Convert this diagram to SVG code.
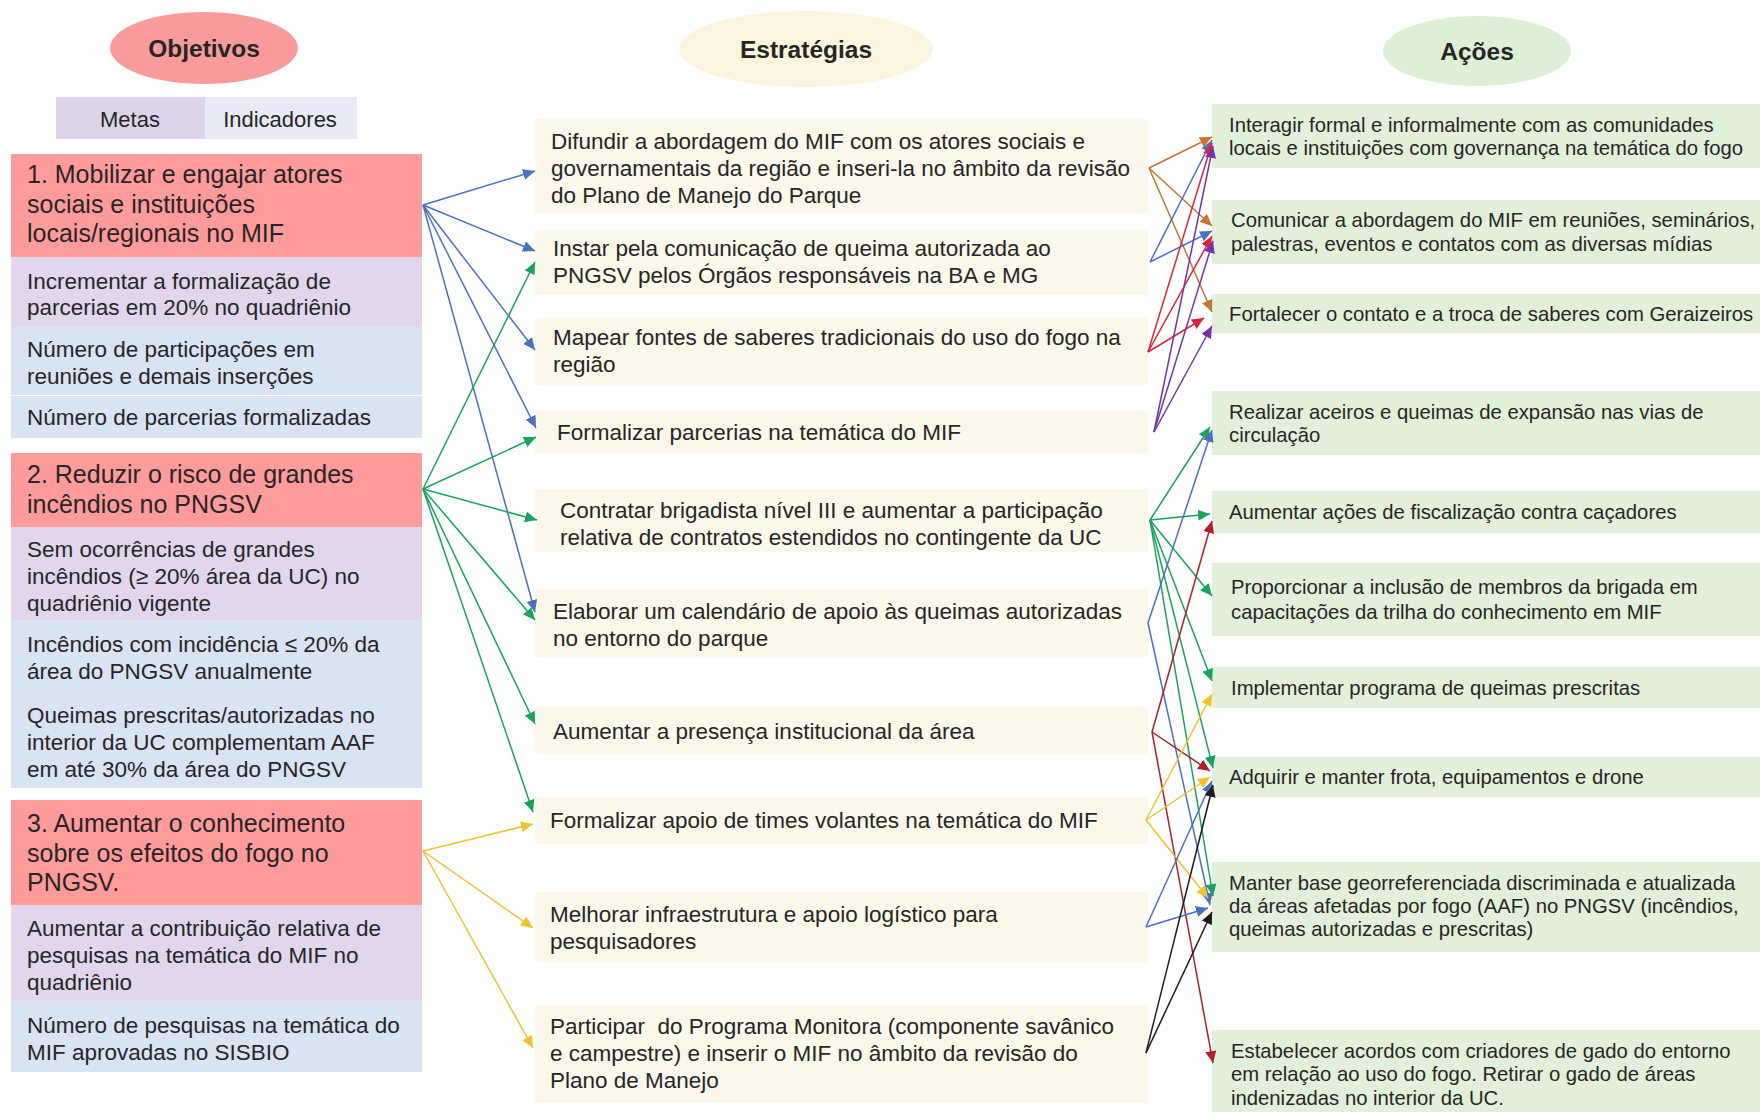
<svg xmlns="http://www.w3.org/2000/svg" width="1760" height="1112" viewBox="0 0 1760 1112">
  <style>
    text { font-family: "Liberation Sans", Arial, sans-serif; fill: #262626; }
    .hdr { font-size: 24.5px; font-weight: bold; text-anchor: middle; }
    .sub { font-size: 22px; text-anchor: middle; }
    .obj { font-size: 25px; }
    .lt { font-size: 22.5px; }
    .md { font-size: 22.5px; }
    .rt { font-size: 20.3px; }
    .c-obj { fill: #FF9B9B; }
    .c-meta { fill: #E1D6EC; }
    .c-ind { fill: #DAE3F2; }
    .c-str { fill: #FBF7EA; }
    .c-act { fill: #E2EFDA; }
    .ln { fill: none; stroke-width: 1.5; }
    .blue { stroke: #4A70C2; marker-end: url(#ah-blue); }
    .green { stroke: #18A45C; marker-end: url(#ah-green); }
    .yellow { stroke: #F2C12E; marker-end: url(#ah-yellow); }
    .orange { stroke: #C8752F; marker-end: url(#ah-orange); }
    .red { stroke: #E3223A; marker-end: url(#ah-red); }
    .purple { stroke: #7434A6; marker-end: url(#ah-purple); }
    .dred { stroke: #B01E28; marker-end: url(#ah-dred); }
    .black { stroke: #1C1C1C; marker-end: url(#ah-black); }
  </style>
  <defs>
    <marker id="ah-blue" markerUnits="userSpaceOnUse" markerWidth="13" markerHeight="11" refX="12" refY="5.5" orient="auto"><path d="M0,0 L12,5.5 L0,11 z" fill="#4A70C2"/></marker>
    <marker id="ah-green" markerUnits="userSpaceOnUse" markerWidth="13" markerHeight="11" refX="12" refY="5.5" orient="auto"><path d="M0,0 L12,5.5 L0,11 z" fill="#18A45C"/></marker>
    <marker id="ah-yellow" markerUnits="userSpaceOnUse" markerWidth="13" markerHeight="11" refX="12" refY="5.5" orient="auto"><path d="M0,0 L12,5.5 L0,11 z" fill="#F2C12E"/></marker>
    <marker id="ah-orange" markerUnits="userSpaceOnUse" markerWidth="13" markerHeight="11" refX="12" refY="5.5" orient="auto"><path d="M0,0 L12,5.5 L0,11 z" fill="#C8752F"/></marker>
    <marker id="ah-red" markerUnits="userSpaceOnUse" markerWidth="13" markerHeight="11" refX="12" refY="5.5" orient="auto"><path d="M0,0 L12,5.5 L0,11 z" fill="#E3223A"/></marker>
    <marker id="ah-purple" markerUnits="userSpaceOnUse" markerWidth="13" markerHeight="11" refX="12" refY="5.5" orient="auto"><path d="M0,0 L12,5.5 L0,11 z" fill="#7434A6"/></marker>
    <marker id="ah-dred" markerUnits="userSpaceOnUse" markerWidth="13" markerHeight="11" refX="12" refY="5.5" orient="auto"><path d="M0,0 L12,5.5 L0,11 z" fill="#B01E28"/></marker>
    <marker id="ah-black" markerUnits="userSpaceOnUse" markerWidth="13" markerHeight="11" refX="12" refY="5.5" orient="auto"><path d="M0,0 L12,5.5 L0,11 z" fill="#1C1C1C"/></marker>
  </defs>

  <rect width="1760" height="1112" fill="#FFFFFF"/>

  <!-- column headers -->
  <g id="hdr-objetivos">
    <ellipse cx="204" cy="48" rx="94" ry="36" fill="#F99B9B"/>
    <text class="hdr" x="204" y="57">Objetivos</text>
  </g>
  <g id="hdr-estrategias">
    <ellipse cx="806" cy="49" rx="127" ry="38" fill="#FBF5E0"/>
    <text class="hdr" x="806" y="58">Estratégias</text>
  </g>
  <g id="hdr-acoes">
    <ellipse cx="1477" cy="51" rx="94" ry="35" fill="#DDEFD6"/>
    <text class="hdr" x="1477" y="60">Ações</text>
  </g>
  <g id="hdr-metas-indicadores">
    <rect x="56" y="97" width="149" height="42" fill="#DDD4EB"/>
    <rect x="205" y="97" width="152" height="42" fill="#E8EBF6"/>
    <text class="sub" x="130" y="127">Metas</text>
    <text class="sub" x="280" y="127">Indicadores</text>
  </g>

  <!-- objective 1 -->
  <g id="obj1">
    <rect class="c-obj" x="11" y="154" width="411" height="103"/>
    <text class="obj"><tspan x="27" y="183">1. Mobilizar e engajar atores</tspan><tspan x="27" y="213">sociais e instituições</tspan><tspan x="27" y="242">locais/regionais no MIF</tspan></text>
  </g>
  <g id="obj1-meta">
    <rect class="c-meta" x="11" y="257" width="411" height="70"/>
    <text class="lt"><tspan x="27" y="289">Incrementar a formalização de</tspan><tspan x="27" y="315">parcerias em 20% no quadriênio</tspan></text>
  </g>
  <g id="obj1-ind1">
    <rect class="c-ind" x="11" y="327" width="411" height="68"/>
    <text class="lt"><tspan x="27" y="357">Número de participações em</tspan><tspan x="27" y="384">reuniões e demais inserções</tspan></text>
  </g>
  <g id="obj1-ind2">
    <rect class="c-ind" x="11" y="396" width="411" height="42"/>
    <text class="lt" x="27" y="425">Número de parcerias formalizadas</text>
  </g>

  <!-- objective 2 -->
  <g id="obj2">
    <rect class="c-obj" x="11" y="453" width="411" height="74"/>
    <text class="obj"><tspan x="27" y="483">2. Reduzir o risco de grandes</tspan><tspan x="27" y="513">incêndios no PNGSV</tspan></text>
  </g>
  <g id="obj2-meta">
    <rect class="c-meta" x="11" y="527" width="411" height="93"/>
    <text class="lt"><tspan x="27" y="557">Sem ocorrências de grandes</tspan><tspan x="27" y="584">incêndios (≥ 20% área da UC) no</tspan><tspan x="27" y="611">quadriênio vigente</tspan></text>
  </g>
  <g id="obj2-ind">
    <rect class="c-ind" x="11" y="620" width="411" height="168"/>
    <text class="lt"><tspan x="27" y="652">Incêndios com incidência ≤ 20% da</tspan><tspan x="27" y="679">área do PNGSV anualmente</tspan><tspan x="27" y="723">Queimas prescritas/autorizadas no</tspan><tspan x="27" y="750">interior da UC complementam AAF</tspan><tspan x="27" y="777">em até 30% da área do PNGSV</tspan></text>
  </g>

  <!-- objective 3 -->
  <g id="obj3">
    <rect class="c-obj" x="11" y="800" width="411" height="105"/>
    <text class="obj"><tspan x="27" y="832">3. Aumentar o conhecimento</tspan><tspan x="27" y="862">sobre os efeitos do fogo no</tspan><tspan x="27" y="891">PNGSV.</tspan></text>
  </g>
  <g id="obj3-meta">
    <rect class="c-meta" x="11" y="905" width="411" height="95"/>
    <text class="lt"><tspan x="27" y="936">Aumentar a contribuição relativa de</tspan><tspan x="27" y="963">pesquisas na temática do MIF no</tspan><tspan x="27" y="990">quadriênio</tspan></text>
  </g>
  <g id="obj3-ind">
    <rect class="c-ind" x="11" y="1000" width="411" height="72"/>
    <text class="lt"><tspan x="27" y="1033">Número de pesquisas na temática do</tspan><tspan x="27" y="1060">MIF aprovadas no SISBIO</tspan></text>
  </g>

  <!-- strategies -->
  <g id="str1">
    <rect class="c-str" x="535" y="119" width="613" height="94"/>
    <text class="md"><tspan x="551" y="149">Difundir a abordagem do MIF com os atores sociais e</tspan><tspan x="551" y="176">governamentais da região e inseri-la no âmbito da revisão</tspan><tspan x="551" y="203">do Plano de Manejo do Parque</tspan></text>
  </g>
  <g id="str2">
    <rect class="c-str" x="535" y="230" width="613" height="65"/>
    <text class="md"><tspan x="553" y="256">Instar pela comunicação de queima autorizada ao</tspan><tspan x="553" y="283">PNGSV pelos Órgãos responsáveis na BA e MG</tspan></text>
  </g>
  <g id="str3">
    <rect class="c-str" x="535" y="318" width="613" height="67"/>
    <text class="md"><tspan x="553" y="345">Mapear fontes de saberes tradicionais do uso do fogo na</tspan><tspan x="553" y="372">região</tspan></text>
  </g>
  <g id="str4">
    <rect class="c-str" x="535" y="411" width="613" height="42"/>
    <text class="md" x="557" y="440">Formalizar parcerias na temática do MIF</text>
  </g>
  <g id="str5">
    <rect class="c-str" x="535" y="489" width="613" height="63"/>
    <text class="md"><tspan x="560" y="518">Contratar brigadista nível III e aumentar a participação</tspan><tspan x="560" y="545">relativa de contratos estendidos no contingente da UC</tspan></text>
  </g>
  <g id="str6">
    <rect class="c-str" x="535" y="589" width="613" height="68"/>
    <text class="md"><tspan x="553" y="619">Elaborar um calendário de apoio às queimas autorizadas</tspan><tspan x="553" y="646">no entorno do parque</tspan></text>
  </g>
  <g id="str7">
    <rect class="c-str" x="535" y="707" width="613" height="47"/>
    <text class="md" x="553" y="739">Aumentar a presença institucional da área</text>
  </g>
  <g id="str8">
    <rect class="c-str" x="535" y="797" width="613" height="47"/>
    <text class="md" x="550" y="828">Formalizar apoio de times volantes na temática do MIF</text>
  </g>
  <g id="str9">
    <rect class="c-str" x="535" y="892" width="613" height="70"/>
    <text class="md"><tspan x="550" y="922">Melhorar infraestrutura e apoio logístico para</tspan><tspan x="550" y="949">pesquisadores</tspan></text>
  </g>
  <g id="str10">
    <rect class="c-str" x="535" y="1005" width="613" height="98"/>
    <text class="md" xml:space="preserve"><tspan x="550" y="1034">Participar  do Programa Monitora (componente savânico</tspan><tspan x="550" y="1061">e campestre) e inserir o MIF no âmbito da revisão do</tspan><tspan x="550" y="1088">Plano de Manejo</tspan></text>
  </g>

  <!-- actions -->
  <g id="act1">
    <rect class="c-act" x="1212" y="104" width="548" height="64"/>
    <text class="rt"><tspan x="1229" y="132">Interagir formal e informalmente com as comunidades</tspan><tspan x="1229" y="155">locais e instituições com governança na temática do fogo</tspan></text>
  </g>
  <g id="act2">
    <rect class="c-act" x="1212" y="200" width="548" height="64"/>
    <text class="rt"><tspan x="1231" y="227">Comunicar a abordagem do MIF em reuniões, seminários,</tspan><tspan x="1231" y="251">palestras, eventos e contatos com as diversas mídias</tspan></text>
  </g>
  <g id="act3">
    <rect class="c-act" x="1212" y="294" width="548" height="39"/>
    <text class="rt" x="1229" y="321">Fortalecer o contato e a troca de saberes com Geraizeiros</text>
  </g>
  <g id="act4">
    <rect class="c-act" x="1212" y="391" width="548" height="64"/>
    <text class="rt"><tspan x="1229" y="419">Realizar aceiros e queimas de expansão nas vias de</tspan><tspan x="1229" y="442">circulação</tspan></text>
  </g>
  <g id="act5">
    <rect class="c-act" x="1212" y="491" width="548" height="42"/>
    <text class="rt" x="1229" y="519">Aumentar ações de fiscalização contra caçadores</text>
  </g>
  <g id="act6">
    <rect class="c-act" x="1212" y="563" width="548" height="73"/>
    <text class="rt"><tspan x="1231" y="594">Proporcionar a inclusão de membros da brigada em</tspan><tspan x="1231" y="619">capacitações da trilha do conhecimento em MIF</tspan></text>
  </g>
  <g id="act7">
    <rect class="c-act" x="1212" y="667" width="548" height="41"/>
    <text class="rt" x="1231" y="695">Implementar programa de queimas prescritas</text>
  </g>
  <g id="act8">
    <rect class="c-act" x="1212" y="757" width="548" height="40"/>
    <text class="rt" x="1229" y="784">Adquirir e manter frota, equipamentos e drone</text>
  </g>
  <g id="act9">
    <rect class="c-act" x="1212" y="862" width="548" height="90"/>
    <text class="rt"><tspan x="1229" y="890">Manter base georreferenciada discriminada e atualizada</tspan><tspan x="1229" y="913">da áreas afetadas por fogo (AAF) no PNGSV (incêndios,</tspan><tspan x="1229" y="936">queimas autorizadas e prescritas)</tspan></text>
  </g>
  <g id="act10">
    <rect class="c-act" x="1212" y="1030" width="548" height="82"/>
    <text class="rt"><tspan x="1231" y="1058">Estabelecer acordos com criadores de gado do entorno</tspan><tspan x="1231" y="1081">em relação ao uso do fogo. Retirar o gado de áreas</tspan><tspan x="1231" y="1105">indenizadas no interior da UC.</tspan></text>
  </g>

  <!-- connectors -->
  <g id="connectors">
    <!-- objective 1 -> strategies -->
    <path class="ln blue" d="M423,205 L535,171"/>
    <path class="ln blue" d="M423,205 L535,251"/>
    <path class="ln blue" d="M423,205 L535,350"/>
    <path class="ln blue" d="M423,205 L536,428"/>
    <path class="ln blue" d="M423,205 L535,612"/>
    <!-- objective 2 -> strategies -->
    <path class="ln green" d="M423,489 L535,262"/>
    <path class="ln green" d="M423,489 L536,437"/>
    <path class="ln green" d="M423,489 L537,520"/>
    <path class="ln green" d="M423,489 L535,620"/>
    <path class="ln green" d="M423,489 L535,724"/>
    <path class="ln green" d="M423,489 L533,812"/>
    <!-- objective 3 -> strategies -->
    <path class="ln yellow" d="M423,851 L533,824"/>
    <path class="ln yellow" d="M423,851 L533,928"/>
    <path class="ln yellow" d="M423,851 L533,1048"/>

    <!-- strategy 1 -> actions -->
    <path class="ln orange" d="M1149,168 L1212,137"/>
    <path class="ln orange" d="M1149,168 L1212,226"/>
    <path class="ln orange" d="M1149,168 L1212,312"/>
    <!-- strategy 2 -> actions -->
    <path class="ln blue" d="M1150,262 L1212,140"/>
    <path class="ln blue" d="M1150,262 L1212,231"/>
    <!-- strategy 3 -> actions -->
    <path class="ln red" d="M1148,352 L1212,143"/>
    <path class="ln red" d="M1148,352 L1212,236"/>
    <path class="ln red" d="M1148,352 L1204,318"/>
    <!-- strategy 4 -> actions -->
    <path class="ln purple" d="M1154,432 L1213,146"/>
    <path class="ln purple" d="M1154,432 L1213,241"/>
    <path class="ln purple" d="M1154,432 L1212,326"/>
    <!-- strategy 5 -> actions -->
    <path class="ln green" d="M1150,520 L1210,427"/>
    <path class="ln green" d="M1150,520 L1210,514"/>
    <path class="ln green" d="M1150,520 L1212,596"/>
    <path class="ln green" d="M1150,520 L1212,681"/>
    <path class="ln green" d="M1150,520 L1213,768"/>
    <path class="ln green" d="M1150,520 L1213,896"/>
    <!-- strategy 6 -> actions -->
    <path class="ln blue" d="M1148,623 L1212,430"/>
    <path class="ln blue" d="M1148,623 L1210,905"/>
    <!-- strategy 7 -> actions -->
    <path class="ln dred" d="M1152,732 L1212,521"/>
    <path class="ln dred" d="M1152,732 L1210,771"/>
    <path class="ln dred" d="M1152,732 L1213,1063"/>
    <!-- strategy 8 -> actions -->
    <path class="ln yellow" d="M1146,820 L1212,694"/>
    <path class="ln yellow" d="M1146,820 L1210,777"/>
    <path class="ln yellow" d="M1146,820 L1208,898"/>
    <!-- strategy 9 -> actions -->
    <path class="ln blue" d="M1146,927 L1212,781"/>
    <path class="ln blue" d="M1146,927 L1208,908"/>
    <!-- strategy 10 -> actions -->
    <path class="ln black" d="M1146,1053 L1213,785"/>
    <path class="ln black" d="M1146,1053 L1212,912"/>
  </g>
</svg>
